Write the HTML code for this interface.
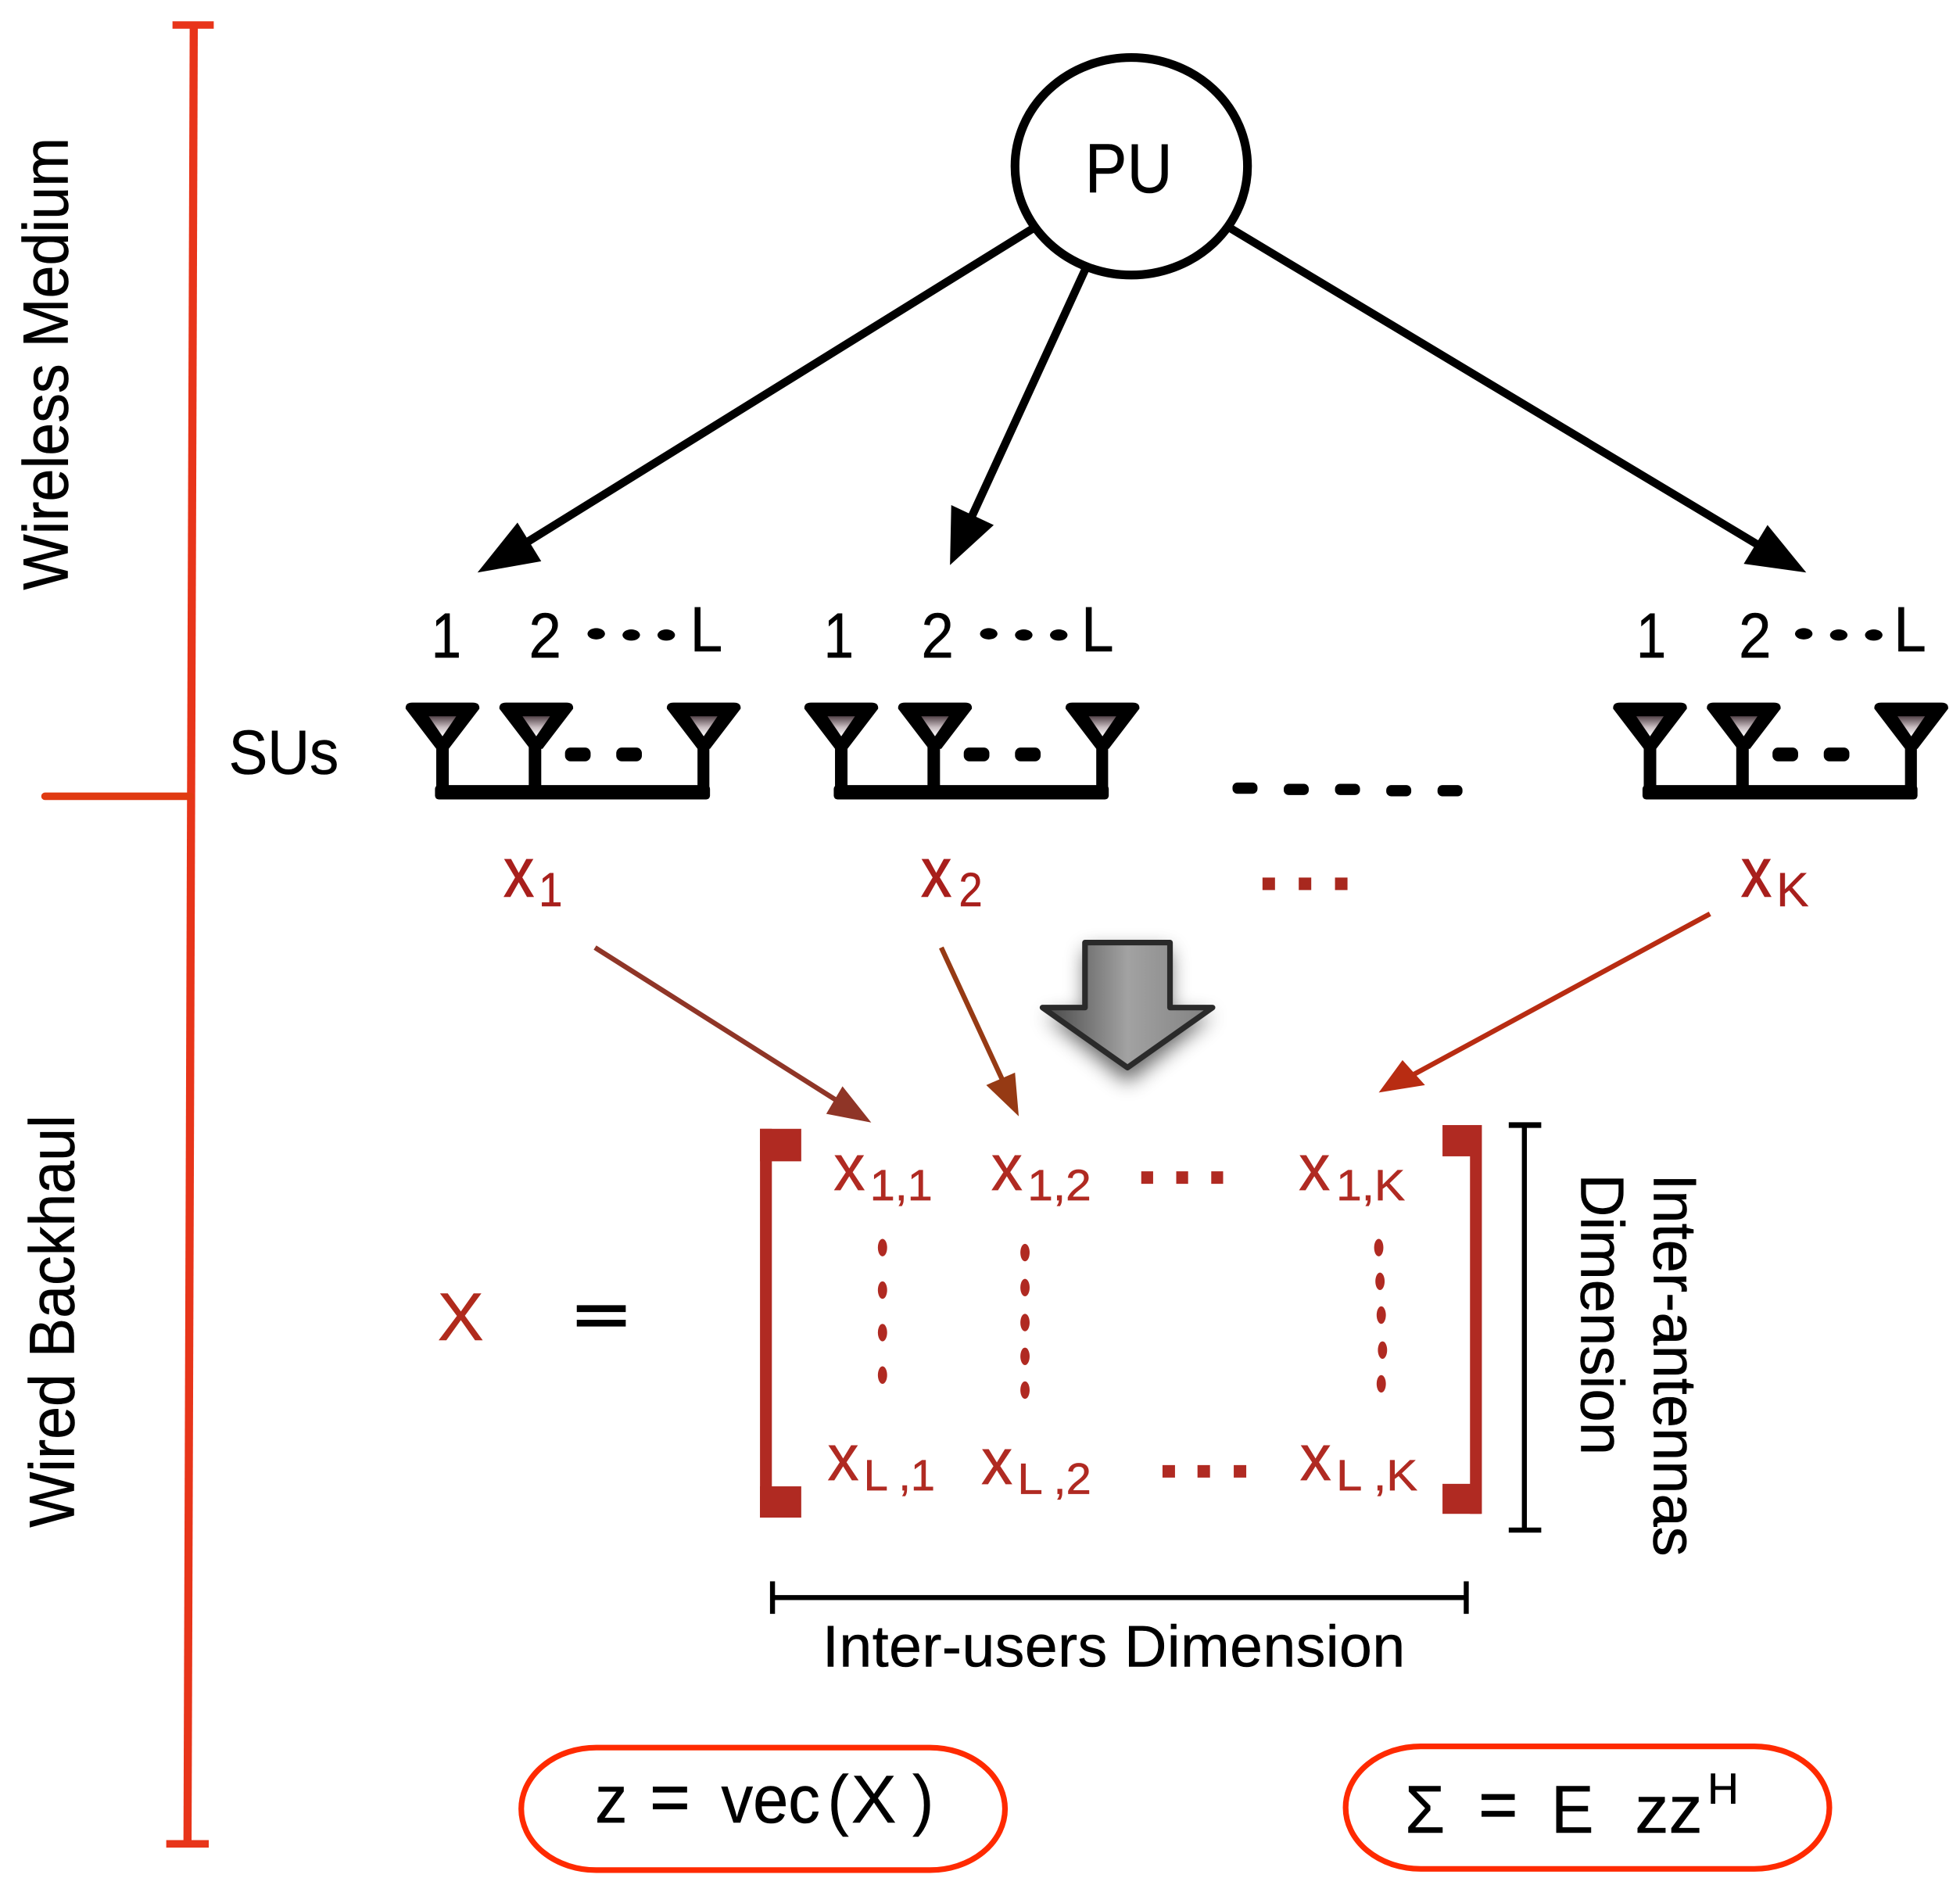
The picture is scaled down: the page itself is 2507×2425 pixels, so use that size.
<!DOCTYPE html>
<html>
<head>
<meta charset="utf-8">
<style>
html,body{margin:0;padding:0;background:#fff;width:2507px;height:2425px;overflow:hidden}
svg{display:block}
text{font-family:"Liberation Sans",sans-serif;fill:#000;stroke:#000;stroke-width:.35}
.r{fill:#a81f1c;stroke:#a81f1c;stroke-width:.9}
.s{fill:#b02a22;stroke:#b02a22;stroke-width:.4}
</style>
</head>
<body>
<svg width="2507" height="2425" viewBox="0 0 1568 1516.7" xmlns="http://www.w3.org/2000/svg">
<defs>
<linearGradient id="ant" x1="0" y1="0" x2="0" y2="1"><stop offset="0" stop-color="#54444a"/><stop offset=".55" stop-color="#c8bcc0"/><stop offset="1" stop-color="#fff"/></linearGradient>
<linearGradient id="gr" x1="0" y1="0" x2="1" y2="0"><stop offset="0" stop-color="#444"/><stop offset=".5" stop-color="#a2a2a2"/><stop offset="1" stop-color="#808080"/></linearGradient>
<filter id="sh" x="-40%" y="-40%" width="180%" height="180%"><feGaussianBlur stdDeviation="8"/></filter>
<g id="su">
<path d="M-29.5 -16 Q-30 -21 -24 -21 L24 -21 Q30 -21 29.5 -16 L5 16 L-5 16 Z" fill="#000"/>
<path d="M-11 -10 L11 -10 L0 6 Z" fill="url(#ant)"/>
</g>
<g id="group">
<rect x="-5" y="0" width="10" height="50" fill="#000"/>
<rect x="69" y="0" width="10" height="50" fill="#000"/>
<rect x="204" y="0" width="9.5" height="50" fill="#000"/>
<rect x="-6" y="45" width="220" height="11.5" rx="3" fill="#000"/>
<use href="#su" x="0" y="0"/>
<use href="#su" x="75" y="0"/>
<use href="#su" x="209" y="0"/>
<rect x="98" y="15" width="20.5" height="11" rx="4.5" fill="#000"/>
<rect x="139" y="15" width="20.5" height="11" rx="4.5" fill="#000"/>
</g>
</defs>

<!-- red axis -->
<g stroke="#e8351a" fill="none">
<path d="M155 20 L150 1475" stroke-width="6.5"/>
<path d="M138 20 H171" stroke-width="6"/>
<path d="M133 1475 H167" stroke-width="6"/>
<path d="M36 637 H152" stroke-width="6" stroke="#e03a12" stroke-linecap="round"/>
</g>

<text transform="translate(54,472) rotate(-90)" font-size="51" textLength="362" lengthAdjust="spacingAndGlyphs">Wireless Medium</text>
<text transform="translate(59,1222) rotate(-90)" font-size="51" textLength="330" lengthAdjust="spacingAndGlyphs">Wired Backhaul</text>

<!-- PU -->
<ellipse cx="905" cy="133" rx="93" ry="87" fill="#fff" stroke="#000" stroke-width="7"/>
<text x="868" y="154" font-size="56" textLength="70" lengthAdjust="spacingAndGlyphs">PU</text>

<!-- black arrows -->
<g fill="#000" stroke="#000">
<path d="M826 183 L405 444" stroke-width="6.5" fill="none"/>
<path d="M382 458 L414 418 L433 449 Z" stroke="none"/>
<path d="M868 216 L772 425" stroke-width="6.5" fill="none"/>
<path d="M760 452 L761 404 L795 420 Z" stroke="none"/>
<path d="M985 183 L1420 444" stroke-width="6.5" fill="none"/>
<path d="M1445 458 L1395 451 L1414 420 Z" stroke="none"/>
</g>

<!-- numbers -->
<g font-size="51">
<text x="345" y="526" textLength="24" lengthAdjust="spacingAndGlyphs">1</text>
<text x="423" y="526" textLength="26" lengthAdjust="spacingAndGlyphs">2</text>
<text x="552" y="521" textLength="26" lengthAdjust="spacingAndGlyphs">L</text>
<text x="659" y="526" textLength="24" lengthAdjust="spacingAndGlyphs">1</text>
<text x="737" y="526" textLength="26" lengthAdjust="spacingAndGlyphs">2</text>
<text x="865" y="521" textLength="26" lengthAdjust="spacingAndGlyphs">L</text>
<text x="1309" y="526" textLength="24" lengthAdjust="spacingAndGlyphs">1</text>
<text x="1391" y="526" textLength="26" lengthAdjust="spacingAndGlyphs">2</text>
<text x="1515" y="521" textLength="26" lengthAdjust="spacingAndGlyphs">L</text>
</g>
<g fill="#000">
<ellipse cx="477" cy="507" rx="7" ry="4.5"/><ellipse cx="505" cy="508" rx="7" ry="4.5"/><ellipse cx="533" cy="508" rx="7" ry="4.5"/>
<ellipse cx="791" cy="507" rx="7" ry="4.5"/><ellipse cx="819" cy="508" rx="7" ry="4.5"/><ellipse cx="847" cy="508" rx="7" ry="4.5"/>
<ellipse cx="1443" cy="507" rx="7" ry="4.5"/><ellipse cx="1471" cy="508" rx="7" ry="4.5"/><ellipse cx="1499" cy="508" rx="7" ry="4.5"/>
</g>

<text x="183" y="619" font-size="50" textLength="88" lengthAdjust="spacingAndGlyphs">SUs</text>

<!-- antennas -->
<use href="#group" x="354" y="583"/>
<use href="#group" x="673" y="583"/>
<use href="#group" x="1320" y="583"/>

<g fill="#000">
<rect x="986" y="626" width="20" height="9" rx="4"/><rect x="1027" y="627" width="20" height="9" rx="4"/><rect x="1068" y="627" width="20" height="9" rx="4"/><rect x="1109" y="628" width="20" height="9" rx="4"/><rect x="1150" y="628" width="20" height="9" rx="4"/>
</g>

<!-- x labels -->
<text class="r" x="403" y="717" font-size="56" textLength="24" lengthAdjust="spacingAndGlyphs">x</text>
<text class="r" x="431" y="725" font-size="38" textLength="19" lengthAdjust="spacingAndGlyphs" style="stroke-width:.3">1</text>
<text class="r" x="737" y="717" font-size="56" textLength="24" lengthAdjust="spacingAndGlyphs">x</text>
<text class="r" x="767" y="725" font-size="38" textLength="19" lengthAdjust="spacingAndGlyphs" style="stroke-width:.3">2</text>
<text class="r" x="1393" y="717" font-size="56" textLength="24" lengthAdjust="spacingAndGlyphs">x</text>
<text class="r" x="1421" y="725" font-size="38" textLength="26" lengthAdjust="spacingAndGlyphs" style="stroke-width:.3">K</text>
<g fill="#a8281e"><rect x="1010" y="702" width="10" height="10"/><rect x="1039" y="702" width="10" height="10"/><rect x="1068" y="702" width="10" height="10"/></g>

<!-- red arrows -->
<path d="M476 758 L672 882" stroke="#8f3527" stroke-width="4" fill="none"/>
<path d="M697 898 L661 891 L674 869 Z" fill="#8f3527"/>
<path d="M753 758 L802 864" stroke="#963a14" stroke-width="4" fill="none"/>
<path d="M815 893 L789 868 L812 858 Z" fill="#963a14"/>
<path d="M1368 731 L1130 860" stroke="#b82c12" stroke-width="4" fill="none"/>
<path d="M1103 874 L1122 848 L1140 868 Z" fill="#b82c12"/>

<!-- gray arrow -->
<path d="M868 760 H936 V812 H970 L902 866 L836 812 H868 Z" fill="#000" opacity=".6" filter="url(#sh)"/>
<path d="M868 754 H936 V806 H970 L902 854 L834 806 H868 Z" fill="url(#gr)" stroke="#2a2a2a" stroke-width="4.5" stroke-linejoin="round"/>

<!-- big X = -->
<text x="350" y="1072" font-size="54" style="fill:#b02a1c;stroke:#b02a1c" textLength="37" lengthAdjust="spacingAndGlyphs">X</text>
<text x="459" y="1067" font-size="43" font-weight="bold" textLength="44" lengthAdjust="spacingAndGlyphs" style="stroke-width:.8">=</text>

<!-- brackets -->
<g fill="#b02a22">
<rect x="608" y="903" width="9.5" height="311"/><rect x="608" y="903" width="33" height="26"/><rect x="608" y="1189" width="33" height="25"/>
<rect x="1176" y="900" width="9.5" height="311"/><rect x="1154" y="900" width="31" height="25"/><rect x="1154" y="1187" width="31" height="24"/>
</g>

<!-- matrix -->
<g>
<text class="s" x="667" y="952" font-size="52" textLength="25" lengthAdjust="spacingAndGlyphs">x</text>
<text class="s" x="696" y="960" font-size="35" textLength="50" lengthAdjust="spacingAndGlyphs">1,1</text>
<text class="s" x="793" y="952" font-size="52" textLength="25" lengthAdjust="spacingAndGlyphs">x</text>
<text class="s" x="822" y="960" font-size="35" textLength="51" lengthAdjust="spacingAndGlyphs">1,2</text>
<text class="s" x="1039" y="952" font-size="52" textLength="25" lengthAdjust="spacingAndGlyphs">x</text>
<text class="s" x="1069" y="960" font-size="35" textLength="55" lengthAdjust="spacingAndGlyphs">1,K</text>
<text class="s" x="662" y="1184" font-size="52" textLength="25" lengthAdjust="spacingAndGlyphs">x</text>
<text class="s" x="691" y="1192" font-size="35" textLength="57" lengthAdjust="spacingAndGlyphs">L ,1</text>
<text class="s" x="785" y="1187" font-size="52" textLength="25" lengthAdjust="spacingAndGlyphs">x</text>
<text class="s" x="814" y="1195" font-size="35" textLength="59" lengthAdjust="spacingAndGlyphs">L ,2</text>
<text class="s" x="1040" y="1184" font-size="52" textLength="25" lengthAdjust="spacingAndGlyphs">x</text>
<text class="s" x="1069" y="1192" font-size="35" textLength="65" lengthAdjust="spacingAndGlyphs">L ,K</text>
</g>
<g fill="#b02a22">
<rect x="913" y="937" width="9.5" height="10"/><rect x="941" y="937" width="9.5" height="10"/><rect x="969" y="937" width="9.5" height="10"/>
<rect x="930" y="1172" width="10" height="10"/><rect x="958" y="1172" width="10" height="10"/><rect x="987" y="1172" width="10" height="10"/>
<ellipse cx="706" cy="998" rx="3.7" ry="7"/><ellipse cx="706" cy="1032" rx="3.7" ry="7"/><ellipse cx="706" cy="1066" rx="3.7" ry="7"/><ellipse cx="706" cy="1100" rx="3.7" ry="7"/>
<ellipse cx="820" cy="1002" rx="3.7" ry="7"/><ellipse cx="820" cy="1030" rx="3.7" ry="7"/><ellipse cx="820" cy="1058" rx="3.7" ry="7"/><ellipse cx="820" cy="1085" rx="3.7" ry="7"/><ellipse cx="820" cy="1112" rx="3.7" ry="7"/>
<ellipse cx="1103" cy="998" rx="3.7" ry="7"/><ellipse cx="1104" cy="1025" rx="3.7" ry="7"/><ellipse cx="1105" cy="1052" rx="3.7" ry="7"/><ellipse cx="1106" cy="1080" rx="3.7" ry="7"/><ellipse cx="1105" cy="1107" rx="3.7" ry="7"/>
</g>

<!-- black dimension brackets -->
<g stroke="#000" stroke-width="4" fill="none">
<path d="M1219.5 900 V1224"/>
<path d="M1207 900 H1233" stroke-width="4.5"/>
<path d="M1207 1224 H1233"/>
<path d="M618 1278 H1173"/>
<path d="M618 1265 V1291"/>
<path d="M1173 1265 V1291"/>
</g>

<text transform="translate(1323,939) rotate(90)" font-size="49" textLength="306" lengthAdjust="spacingAndGlyphs">Inter-antennas</text>
<text transform="translate(1265,939) rotate(90)" font-size="49" textLength="225" lengthAdjust="spacingAndGlyphs">Dimension</text>
<text x="658" y="1333" font-size="47" textLength="466" lengthAdjust="spacing">Inter-users Dimension</text>

<!-- pills -->
<rect x="417" y="1398" width="387" height="98" rx="60" ry="49" fill="none" stroke="#ff2a00" stroke-width="4.5"/>
<rect x="1076.5" y="1397" width="387" height="98" rx="60" ry="49" fill="none" stroke="#ff2a00" stroke-width="4.5"/>

<text x="476" y="1458" font-size="54" textLength="26" lengthAdjust="spacingAndGlyphs">z</text>
<text x="520" y="1456" font-size="54" textLength="32" lengthAdjust="spacingAndGlyphs" style="stroke-width:.8">=</text>
<text x="577" y="1458" font-size="54" textLength="79" lengthAdjust="spacingAndGlyphs">vec</text>
<text x="662" y="1458" font-size="54" textLength="17" lengthAdjust="spacingAndGlyphs">(</text>
<text x="681" y="1458" font-size="54" textLength="36" lengthAdjust="spacingAndGlyphs">X</text>
<text x="730" y="1458" font-size="54" textLength="17" lengthAdjust="spacingAndGlyphs">)</text>

<text x="1124" y="1466" font-size="54" textLength="32" lengthAdjust="spacingAndGlyphs">Σ</text>
<text x="1183" y="1462" font-size="54" textLength="31" lengthAdjust="spacingAndGlyphs" style="stroke-width:.8">=</text>
<text x="1241" y="1466" font-size="54" textLength="34" lengthAdjust="spacingAndGlyphs">E</text>
<text x="1308" y="1466" font-size="54" textLength="54" lengthAdjust="spacingAndGlyphs">zz</text>
<text x="1366" y="1443" font-size="35" textLength="25" lengthAdjust="spacingAndGlyphs">H</text>
</svg>
</body>
</html>
